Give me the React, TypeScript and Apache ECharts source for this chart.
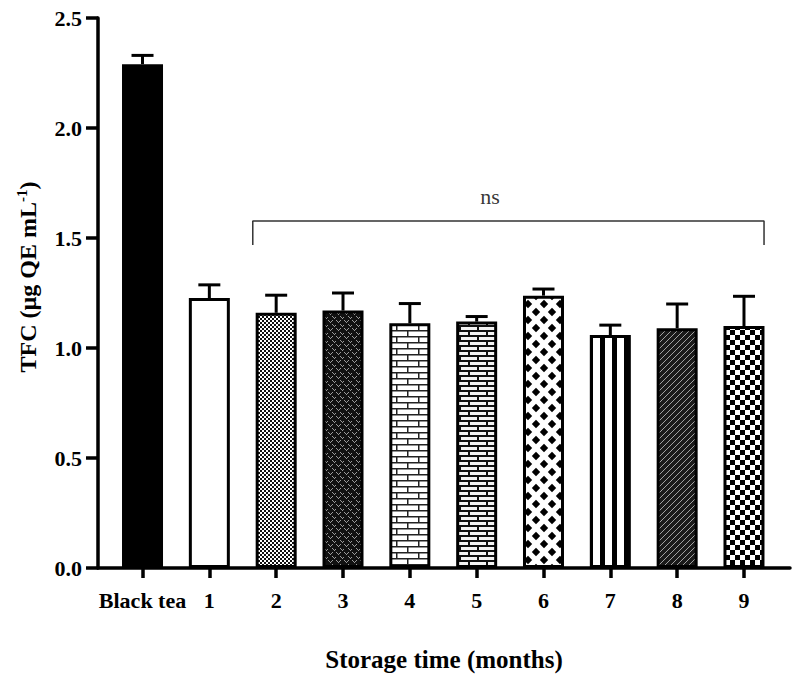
import React, { useEffect, useRef } from "react";
import * as echarts from "echarts";

const categories = ["Black tea", "1", "2", "3", "4", "5", "6", "7", "8", "9"];
const tfcValues = [2.29, 1.227, 1.16, 1.17, 1.112, 1.12, 1.238, 1.059, 1.09, 1.1];
const tfcErrors = [0.04, 0.06, 0.08, 0.08, 0.09, 0.023, 0.03, 0.045, 0.11, 0.135];
const yTicks = [0, 0.5, 1.0, 1.5, 2.0, 2.5];
const bracketX = [1.65, 1.65, 9.3, 9.3];
const bracketY = [1.468, 1.577, 1.577, 1.468];
const nsLabelPos = [5.2, 1.69];
const FONT = '"Liberation Serif", "Times New Roman", serif';

function makeTile(w: number, h: number, draw: (ctx: CanvasRenderingContext2D) => void) {
  const c = document.createElement("canvas");
  c.width = w;
  c.height = h;
  const ctx = c.getContext("2d")!;
  draw(ctx);
  return { image: c, repeat: "repeat", imageWidth: w, imageHeight: h } as any;
}

function buildPatterns(): any[] {
  const p2 = makeTile(4, 4, (ctx) => {
    ctx.fillStyle = "#111";
    ctx.fillRect(0, 0, 4, 4);
    ctx.fillStyle = "#fff";
    ctx.fillRect(0, 0, 2, 2);
    ctx.fillRect(2, 2, 2, 2);
  });
  const p3 = makeTile(8, 8, (ctx) => {
    ctx.fillStyle = "#111";
    ctx.fillRect(0, 0, 8, 8);
    ctx.fillStyle = "#9a9a9a";
    const v = (ox: number, oy: number) => {
      ctx.fillRect(ox, oy, 1, 1);
      ctx.fillRect(ox + 1, oy + 1, 1, 1);
      ctx.fillRect(ox + 2, oy + 2, 1, 1);
      ctx.fillRect(ox + 3, oy + 1, 1, 1);
      ctx.fillRect(ox + 4, oy, 1, 1);
    };
    v(0, 0);
    v(4, 4);
  });
  const p4 = makeTile(22, 12, (ctx) => {
    ctx.fillStyle = "#fff";
    ctx.fillRect(0, 0, 22, 12);
    ctx.fillStyle = "#222";
    ctx.fillRect(0, 0, 22, 1.5);
    ctx.fillRect(0, 6, 22, 1.5);
    ctx.fillRect(0, 0, 1.5, 6);
    ctx.fillRect(11, 6, 1.5, 6);
  });
  const p5 = makeTile(18, 10, (ctx) => {
    ctx.fillStyle = "#f4f4f4";
    ctx.fillRect(0, 0, 18, 10);
    ctx.fillStyle = "#111";
    ctx.fillRect(0, 0, 18, 2);
    ctx.fillRect(0, 5, 18, 2);
    ctx.fillRect(0, 0, 2, 5);
    ctx.fillRect(9, 5, 2, 5);
  });
  const p6 = makeTile(16, 16, (ctx) => {
    ctx.fillStyle = "#fff";
    ctx.fillRect(0, 0, 16, 16);
    ctx.fillStyle = "#000";
    const d = (cx: number, cy: number, r: number) => {
      ctx.beginPath();
      ctx.moveTo(cx, cy - r);
      ctx.lineTo(cx + r, cy);
      ctx.lineTo(cx, cy + r);
      ctx.lineTo(cx - r, cy);
      ctx.closePath();
      ctx.fill();
    };
    d(8, 8, 4.2);
    d(0, 0, 4.2);
    d(16, 0, 4.2);
    d(0, 16, 4.2);
    d(16, 16, 4.2);
  });
  const p7 = makeTile(12, 4, (ctx) => {
    ctx.fillStyle = "#fff";
    ctx.fillRect(0, 0, 12, 4);
    ctx.fillStyle = "#000";
    ctx.fillRect(0, 0, 5, 4);
  });
  const p8 = makeTile(6, 6, (ctx) => {
    ctx.fillStyle = "#1a1a1a";
    ctx.fillRect(0, 0, 6, 6);
    ctx.fillStyle = "#a0a0a0";
    for (let i = 0; i < 6; i++) ctx.fillRect(i, 5 - i, 1, 1);
  });
  const p9 = makeTile(10, 10, (ctx) => {
    ctx.fillStyle = "#fff";
    ctx.fillRect(0, 0, 10, 10);
    ctx.fillStyle = "#000";
    ctx.fillRect(0, 0, 5, 5);
    ctx.fillRect(5, 5, 5, 5);
  });
  return ["#000", "#fff", p2, p3, p4, p5, p6, p7, p8, p9];
}

export default function App() {
  const ref = useRef<HTMLDivElement>(null);
  useEffect(() => {
    if (!ref.current) return;
    const chart = echarts.init(ref.current, null, { renderer: "svg" });
    const fills = buildPatterns();
    const labelStyle = { fontFamily: FONT, fontWeight: "bold" as const, fontSize: 22, color: "#000" };
    chart.setOption({
      animation: false,
      backgroundColor: "#fff",
      grid: [
        { left: 109.1, right: 19.6, top: 18, bottom: 109 },
        { left: 98, right: 7, top: 18, bottom: 109 },
      ],
      xAxis: [
        {
          type: "category",
          gridIndex: 0,
          data: categories,
          axisLine: { show: false },
          axisTick: { show: true, alignWithLabel: true, length: 10, lineStyle: { color: "#000", width: 3.5 } },
          axisLabel: { ...labelStyle, margin: 21, interval: 0 },
          splitLine: { show: false },
        },
        {
          type: "value",
          gridIndex: 1,
          min: 0,
          max: 1,
          axisLine: { show: true, onZero: false, lineStyle: { color: "#000", width: 3.5 } },
          axisTick: { show: false },
          axisLabel: { show: false },
          splitLine: { show: false },
          name: "Storage time (months)",
          nameLocation: "middle",
          nameGap: 79,
          nameTextStyle: { fontFamily: FONT, fontWeight: "bold", fontSize: 25, color: "#000" },
        },
        { type: "value", gridIndex: 0, min: -0.5, max: 9.5, show: false },
      ],
      yAxis: [
        { type: "value", gridIndex: 0, min: 0, max: 2.5, show: false },
        {
          type: "value",
          gridIndex: 1,
          min: yTicks[0],
          max: yTicks[yTicks.length - 1],
          interval: 0.5,
          axisLine: { show: true, lineStyle: { color: "#000", width: 3.5 } },
          axisTick: { show: true, length: 12, lineStyle: { color: "#000", width: 3.5 } },
          axisLabel: { ...labelStyle, margin: 16, formatter: (v: number) => v.toFixed(1) },
          splitLine: { show: false },
        },
      ],
      graphic: [
        {
          type: "text",
          x: 28,
          y: 277,
          rotation: Math.PI / 2,
          style: {
            text: "{a|TFC (µg QE mL}{s|-1}{a|)}",
            align: "center",
            verticalAlign: "middle",
            fill: "#000",
            rich: {
              a: { fontFamily: FONT, fontWeight: "bold", fontSize: 24, lineHeight: 27, fill: "#000" },
              s: { fontFamily: FONT, fontWeight: "bold", fontSize: 15, lineHeight: 15, verticalAlign: "top", fill: "#000" },
            },
          },
        },
      ],
      series: [
        {
          type: "bar",
          xAxisIndex: 0,
          yAxisIndex: 0,
          barWidth: 41,
          data: tfcValues.map((v, i) => ({
            value: v,
            itemStyle: { color: fills[i], borderColor: "#000", borderWidth: 3 },
          })),
          z: 2,
        },
        {
          type: "custom",
          xAxisIndex: 0,
          yAxisIndex: 0,
          data: tfcValues.map((v, i) => [i, v, tfcErrors[i]]),
          encode: { x: 0, y: 1 },
          z: 3,
          renderItem: (params: any, api: any) => {
            const i = api.value(0);
            const v = api.value(1);
            const e = api.value(2);
            const base = api.coord([i, v]);
            const top = api.coord([i, v + e]);
            const half = 11;
            return {
              type: "group",
              children: [
                { type: "line", shape: { x1: base[0], y1: base[1], x2: top[0], y2: top[1] }, style: { stroke: "#000", lineWidth: 3 } },
                { type: "line", shape: { x1: top[0] - half, y1: top[1], x2: top[0] + half, y2: top[1] }, style: { stroke: "#000", lineWidth: 3 } },
              ],
            };
          },
        },
        {
          type: "line",
          xAxisIndex: 2,
          yAxisIndex: 0,
          data: bracketX.map((x, i) => [x, bracketY[i]]),
          symbol: "none",
          lineStyle: { color: "#333", width: 1.5 },
          z: 3,
        },
        {
          type: "scatter",
          xAxisIndex: 2,
          yAxisIndex: 0,
          data: [nsLabelPos],
          symbolSize: 0,
          label: {
            show: true,
            position: "inside",
            formatter: "ns",
            fontFamily: FONT,
            fontSize: 22,
            color: "#000",
          },
        },
      ],
    });
    return () => chart.dispose();
  }, []);
  return <div ref={ref} style={{ position: "absolute", left: 0, top: 0, width: 797, height: 677 }} />;
}
